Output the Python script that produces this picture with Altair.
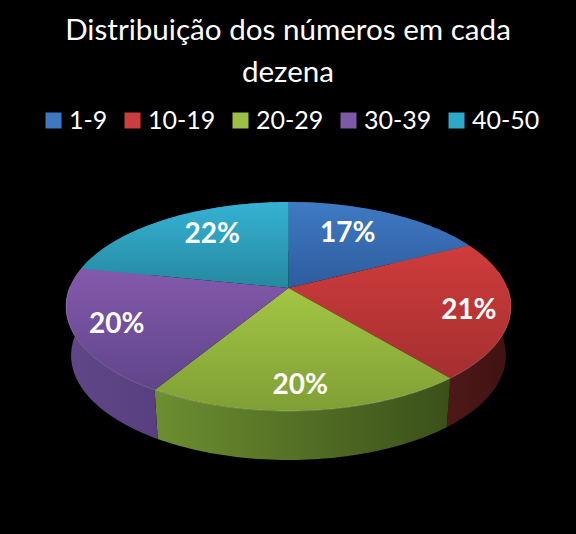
import math
import altair as alt
import pandas as pd

title_lines = ["Distribuição dos números em cada", "dezena"]
categories = ["1-9", "10-19", "20-29", "30-39", "40-50"]
shares = [17.49, 21.49, 19.7, 19.5, 21.82]
legend_colors = ["#3d78c0", "#cc3d3d", "#9cbf45", "#7d5aa6", "#2fa9c9"]
top_colors = [("#3f7ac4", "#2d5c9c"), ("#cf3c3c", "#a52f2f"), ("#a3c644", "#7f9f35"),
              ("#8459ac", "#5f4589"), ("#35b2d4", "#25889f")]
wall_colors = [("#2d5c9c", "#1d3c68"), ("#4f1818", "#3f1212"), ("#6d8e30", "#3a5019"),
               ("#5f4788", "#584080"), ("#25889f", "#186070")]

# layout of the tilted disc
CX, CY = 288.5, 288.0
R, A, K = 219.0, 101.2, 0.177
DEPTH, BOTTOM_SCALE = 49.0, 0.977
label_radius = [0.67, 0.82, 0.82, 0.81, 0.70]
label_turn = [-5, 3, 1, -0.6, 6]


def project(deg, frac=1.0):
    t = math.radians(deg)
    u, v = frac * math.sin(t), -frac * math.cos(t)
    d = 1 - K * v
    return CX + R * u / d, CY + A * v / d


bounds = [0.0]
for s in shares:
    bounds.append(bounds[-1] + s * 3.6)

top_rows, wall_rows, rim_rows, label_rows = [], [], [], []
for i, cat in enumerate(categories):
    a0, a1 = bounds[i], bounds[i + 1]
    steps = [a0 + (a1 - a0) * j / 60 for j in range(61)]
    seq = 0
    x, y = project(0, 0)
    top_rows.append(dict(category=cat, seq=seq, x=x, y=y))
    for a in steps:
        seq += 1
        x, y = project(a)
        top_rows.append(dict(category=cat, seq=seq, x=x, y=y))
        wall_rows.append(dict(category=cat, seq=seq, x=x, y=y))
        if 90 < a < 272:
            rim_rows.append(dict(category=cat, seq=seq, x=x, y=y))
    for a in reversed(steps):
        seq += 1
        x, y = project(a)
        wall_rows.append(dict(category=cat, seq=seq, x=CX + (x - CX) * BOTTOM_SCALE, y=y + DEPTH))
    lx, ly = project((a0 + a1) / 2 + label_turn[i], label_radius[i])
    label_rows.append(dict(category=cat, x=lx, y=ly, text=f"{round(shares[i])}%"))

tops = pd.DataFrame(top_rows)
walls = pd.DataFrame(wall_rows)
rims = pd.DataFrame(rim_rows)
labels = pd.DataFrame(label_rows)

PAD_TOP = 90
xs = alt.X("x:Q", scale=alt.Scale(domain=[0, 576], nice=False, zero=False), axis=None)
ys = alt.Y("y:Q", scale=alt.Scale(domain=[534, PAD_TOP], nice=False, zero=False), axis=None)


def grad(c0, c1, horizontal=False):
    return alt.LinearGradient(
        gradient="linear", x1=0, y1=0, x2=1 if horizontal else 0, y2=0 if horizontal else 1,
        stops=[alt.GradientStop(offset=0, color=c0), alt.GradientStop(offset=1, color=c1)],
    )


layers = []
for i, cat in enumerate(categories):
    layers.append(
        alt.Chart(walls[walls.category == cat])
        .mark_line(fill=grad(*wall_colors[i], horizontal=True), strokeWidth=0, interpolate="linear")
        .encode(x=xs, y=ys, order="seq:Q")
    )
for i, cat in enumerate(categories):
    layers.append(
        alt.Chart(tops[tops.category == cat])
        .mark_line(fill=grad(*top_colors[i]), strokeWidth=0, interpolate="linear")
        .encode(x=xs, y=ys, order="seq:Q")
    )
rim = (
    alt.Chart(rims)
    .mark_line(stroke="#ffffff", strokeOpacity=0.2, strokeWidth=1)
    .encode(x=xs, y=ys, order="seq:Q", detail="category:N")
)
text = (
    alt.Chart(labels)
    .mark_text(font="Lato", fontSize=28, fontWeight="bold", color="white", baseline="middle", align="center", dy=1)
    .encode(x=xs, y=ys, text="text:N")
)
legend_layer = (
    alt.Chart(pd.DataFrame({"category": categories}))
    .mark_square(size=1, opacity=0)
    .encode(
        color=alt.Color(
            "category:N",
            sort=categories,
            scale=alt.Scale(domain=categories, range=legend_colors),
            legend=alt.Legend(
                title=None, orient="none", legendX=41, legendY=18, direction="horizontal", columns=5,
                symbolType="square", symbolSize=256, symbolOpacity=1, symbolStrokeWidth=0,
                labelFont="Lato", labelFontSize=25, labelColor="white", labelOpacity=1,
                labelOffset=3, columnPadding=12, gridAlign="none",
            ),
        )
    )
)

chart = (
    alt.layer(*layers, rim, text, legend_layer)
    .properties(
        width=576,
        height=534 - PAD_TOP,
        padding={"left": 0, "right": 0, "top": PAD_TOP, "bottom": 0},
        autosize=alt.AutoSizeParams(type="none"),
        background="#000000",
        title=alt.TitleParams(
            text=title_lines, font="Lato", fontSize=29.6, fontWeight="normal", color="white",
            anchor="middle", lineHeight=42, offset=1,
        ),
    )
    .configure_view(stroke=None)
)

chart.save("out.html", embed_options={
    "renderer": "svg", "actions": False,
    "defaultStyle": "html,body{background:#000;margin:0;padding:0;overflow:hidden}.vega-embed svg{display:block}",
})
